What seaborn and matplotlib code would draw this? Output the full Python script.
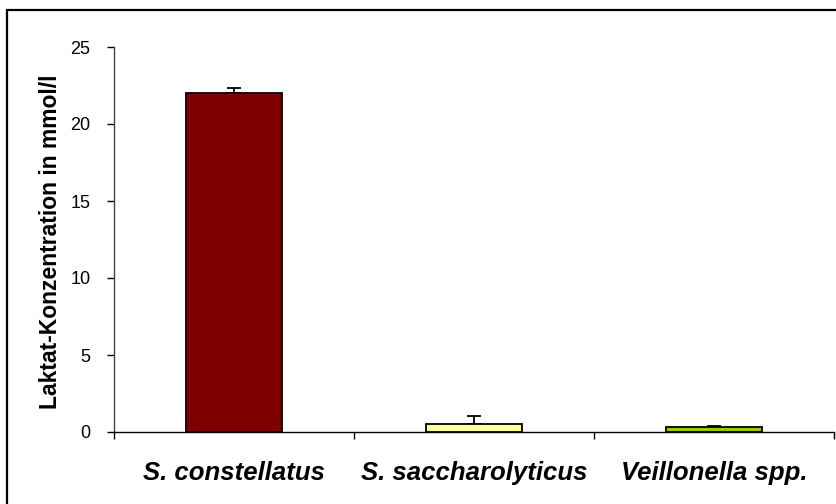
import numpy as np
import pandas as pd
import matplotlib
matplotlib.use('Agg')
import matplotlib.pyplot as plt
import seaborn as sns
from matplotlib.patches import Rectangle

# data
species = ['S. constellatus', 'S. saccharolyticus', 'Veillonella spp.']
laktat = [22.0, 0.55, 0.35]
laktat_err = [0.35, 0.48, 0.02]
bar_colors = ['#800000', '#FFFF99', '#99CC00']

sns.set_theme(style='white')
plt.rcParams['font.family'] = ['Liberation Sans', 'DejaVu Sans']

df = pd.DataFrame({'species': species, 'laktat': laktat})

fig = plt.figure(figsize=(8.37, 5.04), dpi=100)
ax = fig.add_axes([114 / 837, 1 - 432 / 504, 720 / 837, 385 / 504])

sns.barplot(data=df, x='species', y='laktat', hue='species', palette=bar_colors,
            order=species, hue_order=species, width=0.4, errorbar=None, saturation=1,
            edgecolor='black', linewidth=1.3, legend=False, ax=ax, zorder=3)

# nur obere Fehlerbalken
ax.errorbar(np.arange(len(species)), laktat, yerr=[np.zeros(len(species)), laktat_err],
            fmt='none', ecolor='black', elinewidth=1.3, capsize=5, capthick=1.3, zorder=2)

ax.set_xlim(-0.5, 2.5)
ax.set_ylim(0, 25)
ax.set_yticks([0, 5, 10, 15, 20, 25])
ax.tick_params(axis='y', direction='out', length=5, width=1, color='black',
               pad=12, labelsize=13, labelcolor='black', left=True)
ax.set_xticks(range(len(species)))
ax.set_xticklabels(species, fontsize=18.5, fontweight='bold', fontstyle='italic', color='black')
ax.set_xticks([-0.5, 0.5, 1.5, 2.5], minor=True)
ax.tick_params(axis='x', which='major', length=0, pad=21)
ax.tick_params(axis='x', which='minor', direction='out', length=5, width=1,
               color='black', bottom=True)

ax.set_xlabel('')
ax.set_ylabel('Laktat-Konzentration in mmol/l', fontsize=16.5, fontweight='bold', color='black')
ax.yaxis.set_label_coords(-0.072, 0.494)

sns.despine(ax=ax)
ax.spines['left'].set_color('#444444')
ax.spines['left'].set_linewidth(1)
ax.spines['bottom'].set_color('black')
ax.spines['bottom'].set_linewidth(1)

# Rahmen um die Grafik (oben und links sichtbar)
fig.patches.append(Rectangle((7 / 837, -0.2), 1.2, 1.2 - 10 / 504, transform=fig.transFigure,
                             fill=False, edgecolor='black', linewidth=1.6, zorder=10))

fig.savefig('out.png', dpi=100)
